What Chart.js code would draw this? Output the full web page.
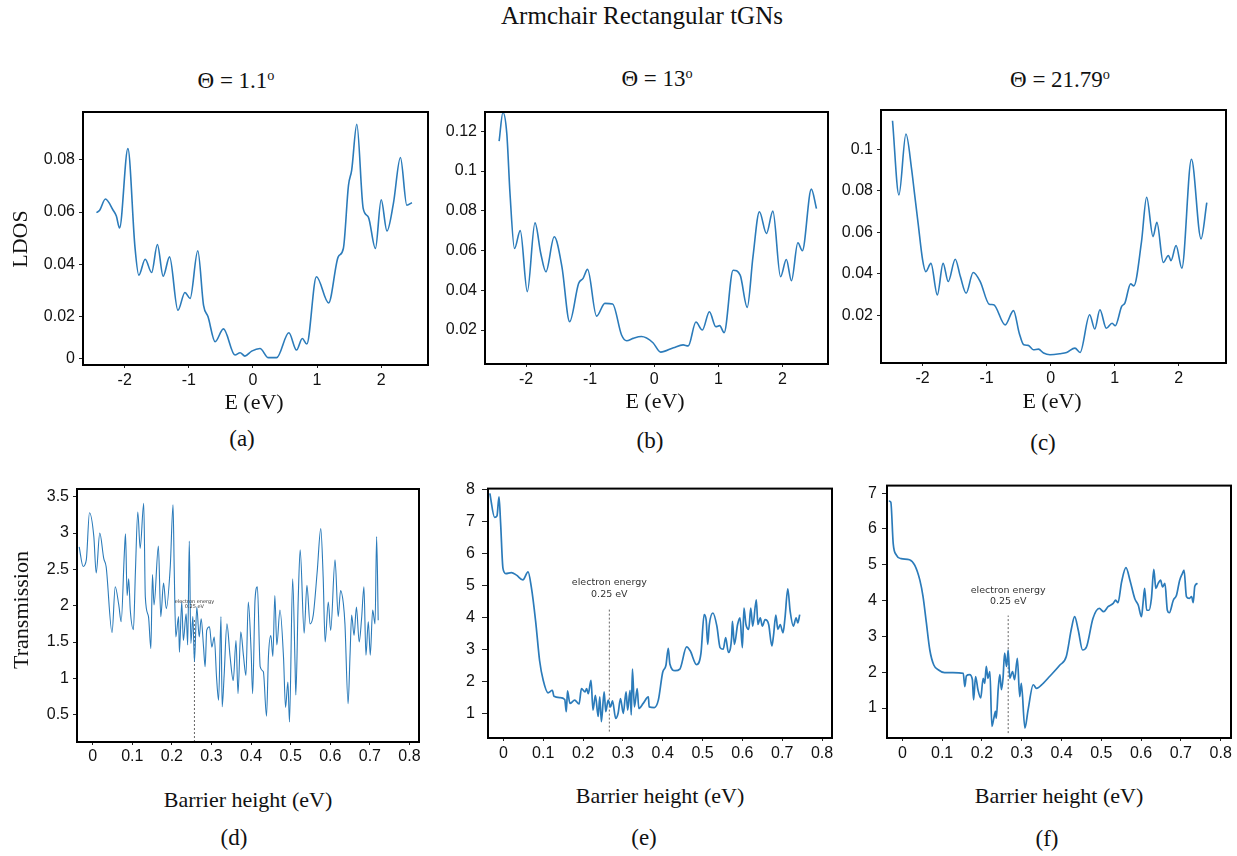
<!DOCTYPE html>
<html><head><meta charset="utf-8">
<script src="https://cdn.jsdelivr.net/npm/chart.js@4.4.0/dist/chart.umd.min.js"></script>
<style>
html,body{margin:0;padding:0;background:#fff;}
#root{position:relative;width:1237px;height:856px;overflow:hidden;background:#fff;}
canvas{position:absolute;}
.t{position:absolute;font-family:'Liberation Serif','Times New Roman',serif;color:#111;white-space:nowrap;line-height:1;transform:translate(-50%,-50%);}
.rot{transform:translate(-50%,-50%) rotate(-90deg);}
sup{font-size:0.62em;vertical-align:0.5em;line-height:0;}
</style></head><body><div id="root"></div>
<script>
// ---------- data ----------
const ldosTicksX = [-2, -1, 0, 1, 2];
const barrierTicksX = [0, 0.1, 0.2, 0.3, 0.4, 0.5, 0.6, 0.7, 0.8];

const aYTicks = [0.0039, 0.02, 0.04, 0.06, 0.08];
const aYLabels = ['0', '0.02', '0.04', '0.06', '0.08'];
const bYTicks = [0.02, 0.04, 0.06, 0.08, 0.1, 0.12];
const bYLabels = ['0.02', '0.04', '0.06', '0.08', '0.1', '0.12'];
const cYTicks = [0.02, 0.04, 0.06, 0.08, 0.1];
const cYLabels = ['0.02', '0.04', '0.06', '0.08', '0.1'];
const dYTicks = [0.5, 1, 1.5, 2, 2.5, 3, 3.5];
const eYTicks = [1, 2, 3, 4, 5, 6, 7, 8];
const fYTicks = [1, 2, 3, 4, 5, 6, 7];

// (a) theta = 1.1
const aE = [-2.44,-2.39,-2.30,-2.18,-2.13,-2.08,-1.95,-1.84,-1.78,-1.68,-1.58,-1.49,-1.40,-1.30,-1.17,-1.06,-0.98,-0.86,-0.77,-0.70,-0.59,-0.46,-0.28,-0.20,-0.125,-0.02,0.11,0.24,0.37,0.56,0.68,0.77,0.84,0.99,1.18,1.33,1.41,1.49,1.54,1.62,1.72,1.80,1.91,2.00,2.09,2.19,2.30,2.40,2.48];
const aLDOS = [0.0598,0.0607,0.065,0.0607,0.0585,0.0539,0.0842,0.0467,0.0359,0.042,0.0369,0.0476,0.0355,0.0429,0.0225,0.0293,0.027,0.0452,0.0244,0.02,0.0105,0.0154,0.0054,0.0063,0.005,0.0069,0.0079,0.0044,0.0044,0.0139,0.0073,0.0117,0.0096,0.0353,0.0253,0.0429,0.0461,0.0702,0.076,0.0935,0.0613,0.0581,0.0461,0.0647,0.0528,0.0632,0.0808,0.0626,0.0636];

// (b) theta = 13
const bE = [-2.42,-2.36,-2.30,-2.25,-2.18,-2.09,-1.98,-1.86,-1.77,-1.69,-1.56,-1.44,-1.32,-1.18,-1.11,-1.04,-0.90,-0.77,-0.65,-0.51,-0.43,-0.33,-0.20,-0.02,0.10,0.30,0.45,0.53,0.65,0.75,0.86,0.96,1.02,1.09,1.23,1.34,1.45,1.54,1.64,1.75,1.85,1.97,2.06,2.14,2.24,2.31,2.45,2.53];
const bLDOS = [0.115,0.1295,0.1188,0.0887,0.061,0.07,0.0393,0.0739,0.0585,0.0493,0.0669,0.0518,0.0242,0.0434,0.046,0.0505,0.027,0.0334,0.0331,0.0175,0.0146,0.0158,0.0167,0.0136,0.0089,0.0111,0.0125,0.012,0.024,0.02,0.0292,0.0217,0.0222,0.0187,0.0501,0.0476,0.0314,0.0569,0.0795,0.0686,0.0798,0.0468,0.0555,0.0448,0.0639,0.0599,0.0909,0.0811];

// (c) theta = 21.79
const cE = [-2.47,-2.37,-2.26,-2.17,-2.13,-2.07,-2.00,-1.95,-1.87,-1.77,-1.68,-1.60,-1.49,-1.41,-1.32,-1.21,-1.10,-0.96,-0.89,-0.71,-0.58,-0.49,-0.42,-0.35,-0.27,-0.19,-0.11,-0.01,0.15,0.25,0.38,0.46,0.61,0.69,0.77,0.87,0.96,1.01,1.11,1.16,1.25,1.30,1.42,1.50,1.60,1.66,1.76,1.84,1.88,1.96,2.05,2.20,2.35,2.44];
const cLDOS = [0.1138,0.078,0.1074,0.09,0.0796,0.0643,0.0467,0.041,0.045,0.0298,0.045,0.0362,0.047,0.0386,0.0306,0.0406,0.0362,0.0253,0.025,0.0153,0.0222,0.0113,0.0057,0.0054,0.0033,0.0036,0.0017,0.0009,0.0014,0.002,0.0041,0.002,0.0202,0.0133,0.0226,0.0137,0.0161,0.0149,0.0242,0.0258,0.0351,0.0341,0.0555,0.0769,0.0579,0.0648,0.0454,0.0488,0.0463,0.0536,0.0427,0.0952,0.0568,0.0743];

// (d) transmission, theta = 1.1
const dBarrier = [-0.034,-0.024,-0.016,-0.008,0.003,0.009,0.018,0.028,0.034,0.049,
0.057,0.066,0.072,0.080,0.083,0.087,0.091,0.095,0.103,0.108,
0.114,0.120,0.129,0.133,0.141,0.147,0.151,0.155,0.166,0.172,
0.179,0.186,0.196,0.203,0.206,0.210,0.217,0.219,0.225,0.229,
0.236,0.240,0.244,0.248,0.253,0.257,0.263,0.269,0.274,0.280,
0.284,0.288,0.295,0.301,0.307,0.313,0.318,0.324,0.327,0.332,
0.339,0.347,0.355,0.362,0.367,0.374,0.381,0.387,0.393,0.400,
0.404,0.410,0.416,0.423,0.431,0.439,0.444,0.450,0.455,0.460,
0.465,0.473,0.482,0.487,0.493,0.497,0.505,0.511,0.513,0.519,
0.524,0.534,0.541,0.549,0.557,0.567,0.576,0.582,0.587,0.595,
0.601,0.612,0.620,0.626,0.633,0.637,0.645,0.650,0.654,0.660,
0.666,0.673,0.679,0.685,0.690,0.696,0.701,0.707,0.713,0.717,
0.721];
const dTrans = [2.81,2.54,2.63,3.28,2.95,2.45,3.0,2.65,2.54,1.63,
2.26,2.01,1.78,2.72,2.99,2.14,2.37,1.94,1.67,2.47,
3.29,2.79,3.41,2.12,1.85,1.41,2.43,2.01,2.82,1.85,
2.31,1.96,2.54,3.39,2.49,1.57,1.85,1.36,2.05,1.52,
1.89,1.46,2.89,1.48,1.85,1.23,1.98,1.57,1.82,1.43,
1.16,1.66,1.71,1.43,1.57,1.0,0.70,1.85,0.61,1.04,
1.75,1.30,0.97,1.52,0.79,1.64,1.30,1.04,2.05,1.39,
0.79,2.08,2.26,1.16,1.09,0.48,1.32,1.59,1.30,2.14,
1.46,1.94,1.28,0.60,0.95,0.40,2.37,1.20,0.77,2.08,
2.77,1.62,2.28,1.75,1.87,2.47,3.06,2.40,1.50,2.05,
1.66,2.63,1.85,2.21,2.03,1.75,0.65,1.34,1.87,1.59,
1.98,1.50,1.82,2.26,1.32,1.78,1.32,1.94,1.75,2.95,
1.80];

// (e) transmission, theta = 13
const eBarrier = [-0.034,-0.022,-0.016,-0.011,-0.007,-0.001,0.006,0.020,0.033,0.049,
0.062,0.070,0.081,0.091,0.100,0.112,0.123,0.127,0.142,0.154,
0.158,0.161,0.167,0.179,0.190,0.196,0.205,0.209,0.213,0.220,
0.225,0.231,0.238,0.242,0.246,0.253,0.257,0.263,0.269,0.274,
0.282,0.288,0.294,0.301,0.308,0.312,0.318,0.321,0.324,0.329,
0.336,0.340,0.351,0.364,0.366,0.379,0.389,0.400,0.408,0.414,
0.418,0.431,0.443,0.460,0.469,0.485,0.496,0.504,0.509,0.513,
0.517,0.526,0.536,0.544,0.552,0.558,0.565,0.573,0.575,0.580,
0.588,0.594,0.600,0.604,0.609,0.616,0.621,0.626,0.635,0.639,
0.645,0.650,0.657,0.666,0.674,0.678,0.684,0.689,0.695,0.702,
0.707,0.714,0.720,0.728,0.735,0.739,0.744];
const eTrans = [7.88,7.13,7.18,7.77,6.97,5.54,5.38,5.41,5.33,5.18,
5.43,4.97,3.89,2.66,2.05,1.66,1.74,1.55,1.51,1.45,
1.07,1.72,1.33,1.43,1.31,1.79,1.69,1.79,1.63,2.05,
1.12,1.58,0.92,1.53,0.76,1.69,1.07,1.43,1.22,1.41,
0.86,1.02,1.48,1.02,1.69,1.12,1.74,0.97,2.40,1.22,
1.79,1.17,1.33,1.53,1.22,1.20,1.43,2.30,2.51,3.05,
2.56,2.35,2.40,3.09,2.97,2.54,2.89,4.10,3.94,3.17,
3.79,4.15,3.74,3.07,3.02,3.38,2.92,3.38,3.89,3.17,
3.79,4.0,3.07,4.30,3.79,3.64,4.30,3.74,4.56,3.79,
4.0,3.74,3.94,3.79,3.12,3.43,4.08,3.64,3.79,3.53,
4.0,4.90,4.20,3.74,4.0,3.84,4.10];

// (f) transmission, theta = 21.79
const fBarrier = [-0.034,-0.029,-0.023,-0.015,-0.003,0.018,0.031,0.044,0.052,0.060,
0.069,0.079,0.090,0.106,0.127,0.153,0.157,0.161,0.169,0.176,
0.179,0.184,0.190,0.197,0.203,0.207,0.211,0.215,0.220,0.225,
0.230,0.234,0.236,0.241,0.245,0.249,0.253,0.257,0.262,0.266,
0.270,0.277,0.282,0.289,0.295,0.299,0.308,0.316,0.329,0.337,
0.354,0.370,0.396,0.412,0.425,0.433,0.442,0.453,0.463,0.479,
0.495,0.506,0.517,0.530,0.536,0.542,0.551,0.562,0.572,0.584,
0.593,0.601,0.605,0.609,0.614,0.620,0.626,0.632,0.637,0.643,
0.649,0.654,0.660,0.666,0.671,0.681,0.689,0.697,0.704,0.708,
0.714,0.721,0.727,0.731,0.735,0.742];
const fTrans = [6.78,6.75,5.59,5.27,5.17,5.14,4.99,4.57,4.11,3.41,
2.62,2.20,2.07,1.99,1.99,1.97,1.60,1.90,1.93,1.79,
1.23,1.88,1.51,1.28,1.83,1.69,2.16,1.83,2.02,0.49,
0.72,0.91,0.72,1.55,1.93,1.51,1.83,2.53,2.16,2.62,
1.83,2.02,1.79,2.39,1.32,1.69,0.44,0.95,1.65,1.55,
1.69,1.88,2.20,2.44,3.22,3.55,3.18,2.62,2.71,3.50,
3.78,3.69,3.83,3.92,4.01,3.94,4.52,4.92,4.57,4.06,
3.87,3.55,3.94,4.34,3.73,3.73,4.06,4.87,4.34,4.48,
4.57,4.38,4.48,3.73,3.66,4.01,4.15,4.57,4.76,4.85,
4.11,4.06,4.11,3.94,4.40,4.48];

// electron-energy marker (x position, bottom, top)
const dMarker = [0.257, 0.124, 1.82];
const eMarker = [0.266, 0.45, 4.32];
const fMarker = [0.266, 0.30, 3.58];
const markerText = ['electron energy', '0.25 eV'];

// ---------- drawing ----------
const root = document.getElementById('root');
const LINE = '#2b7bba';
const TICKFONT = {family: "'Liberation Sans', Arial, sans-serif", size: 16};

const framePlugin = {
  id: 'frame',
  afterDraw(chart) {
    const a = chart.chartArea, ctx = chart.ctx;
    ctx.save();
    ctx.strokeStyle = '#000';
    ctx.lineWidth = 2;
    ctx.strokeRect(a.left, a.top, a.right - a.left, a.bottom - a.top);
    ctx.restore();
  }
};

function panel(cfg) {
  const PL = 70, PT = 14, PR = 26, PB = 36;
  const w = cfg.box.r - cfg.box.l + PL + PR;
  const h = cfg.box.b - cfg.box.t + PT + PB;
  const cv = document.createElement('canvas');
  cv.width = w; cv.height = h;
  cv.style.left = (cfg.box.l - PL) + 'px';
  cv.style.top = (cfg.box.t - PT) + 'px';
  cv.style.width = w + 'px'; cv.style.height = h + 'px';
  root.appendChild(cv);

  const datasets = [{
    data: cfg.xs.map((x, i) => ({x: x, y: cfg.ys[i]})),
    borderColor: LINE, borderWidth: cfg.lw, pointRadius: 0,
    cubicInterpolationMode: 'monotone', fill: false
  }];
  if (cfg.marker) {
    datasets.push({
      data: [{x: cfg.marker[0], y: cfg.marker[1]}, {x: cfg.marker[0], y: cfg.marker[2]}],
      borderColor: '#666', borderWidth: 1, borderDash: [2, 2], pointRadius: 0, fill: false
    });
  }
  const annot = {
    id: 'annot',
    afterDatasetsDraw(chart) {
      if (!cfg.marker) return;
      const ctx = chart.ctx;
      const px = chart.scales.x.getPixelForValue(cfg.marker[0]);
      const py = chart.scales.y.getPixelForValue(cfg.marker[2]);
      ctx.save();
      ctx.font = cfg.mfont + "px 'DejaVu Sans', sans-serif";
      ctx.fillStyle = '#333';
      ctx.textAlign = 'center';
      ctx.textBaseline = 'middle';
      ctx.fillText(markerText[0], px, py + cfg.moff[0]);
      ctx.fillText(markerText[1], px, py + cfg.moff[1]);
      ctx.restore();
    }
  };
  new Chart(cv, {
    type: 'line',
    data: {datasets: datasets},
    options: {
      responsive: false, animation: false, devicePixelRatio: 1,
      layout: {padding: {left: 0, top: PT, right: PR, bottom: 0}},
      plugins: {legend: {display: false}, tooltip: {enabled: false}},
      scales: {
        x: {
          type: 'linear', min: cfg.xr[0], max: cfg.xr[1],
          afterFit: s => { s.height = PB; },
          afterBuildTicks: s => { s.ticks = cfg.xt.map(v => ({value: v})); },
          ticks: {callback: v => String(v), font: TICKFONT, color: '#111', padding: cfg.xpad, maxRotation: 0, autoSkip: false},
          grid: {display: true, drawOnChartArea: false, drawTicks: true, tickLength: 3, color: '#222'},
          border: {display: false}
        },
        y: {
          type: 'linear', min: cfg.yr[0], max: cfg.yr[1],
          afterFit: s => { s.width = PL; },
          afterBuildTicks: s => { s.ticks = cfg.yt.map(v => ({value: v})); },
          ticks: {callback: (v, i) => cfg.yl ? cfg.yl[i] : String(v), font: TICKFONT, color: '#111', padding: cfg.ypad, autoSkip: false},
          grid: {display: true, drawOnChartArea: false, drawTicks: true, tickLength: cfg.ytl, color: '#222'},
          border: {display: false}
        }
      }
    },
    plugins: [framePlugin, annot]
  });
}

panel({box: {l: 83, t: 112, r: 428, b: 365}, xs: aE, ys: aLDOS, lw: 1.6,
  xr: [-2.65, 2.73], yr: [0.0016, 0.0982], xt: ldosTicksX, yt: aYTicks, yl: aYLabels, xpad: 3, ypad: 4, ytl: 4});
panel({box: {l: 485, t: 112, r: 828, b: 364}, xs: bE, ys: bLDOS, lw: 1.6,
  xr: [-2.64, 2.71], yr: [0.0029, 0.1297], xt: ldosTicksX, yt: bYTicks, yl: bYLabels, xpad: 3, ypad: 4, ytl: 4});
panel({box: {l: 881, t: 110, r: 1226, b: 363}, xs: cE, ys: cLDOS, lw: 1.6,
  xr: [-2.65, 2.74], yr: [-0.0031, 0.119], xt: ldosTicksX, yt: cYTicks, yl: cYLabels, xpad: 3, ypad: 4, ytl: 4});
panel({box: {l: 77, t: 489, r: 419, b: 742}, xs: dBarrier, ys: dTrans, lw: 1.1,
  xr: [-0.0395, 0.824], yr: [0.124, 3.606], xt: barrierTicksX, yt: dYTicks, xpad: 2, ypad: 4, ytl: 4,
  marker: dMarker, mfont: 5, moff: [-17, -12]});
panel({box: {l: 488, t: 486, r: 832, b: 738}, xs: eBarrier, ys: eTrans, lw: 1.7,
  xr: [-0.0386, 0.825], yr: [0.25, 8.03], xt: barrierTicksX, yt: eYTicks, xpad: 3, ypad: 7, ytl: 6,
  marker: eMarker, mfont: 9.5, moff: [-25, -13]});
panel({box: {l: 887, t: 485, r: 1231, b: 738}, xs: fBarrier, ys: fTrans, lw: 1.7,
  xr: [-0.0386, 0.826], yr: [0.163, 7.21], xt: barrierTicksX, yt: fYTicks, xpad: 3, ypad: 5, ytl: 5,
  marker: fMarker, mfont: 9.5, moff: [-25, -14]});

// ---------- text ----------
function label(html, cx, cy, size, rot) {
  const d = document.createElement('div');
  d.className = 't' + (rot ? ' rot' : '');
  d.style.left = cx + 'px'; d.style.top = cy + 'px'; d.style.fontSize = size + 'px';
  d.innerHTML = html;
  root.appendChild(d);
}
label('Armchair Rectangular tGNs', 642, 15, 25);
label('&Theta; = 1.1<sup>o</sup>', 236, 80, 23);
label('&Theta; = 13<sup>o</sup>', 657, 78, 23);
label('&Theta; = 21.79<sup>o</sup>', 1060, 79, 23);
label('LDOS', 20, 239, 22, true);
label('E (eV)', 254, 402, 22);
label('E (eV)', 655, 401, 22);
label('E (eV)', 1052, 401, 22);
label('(a)', 242, 438, 23);
label('(b)', 650, 440, 23);
label('(c)', 1043, 442, 23);
label('Transmission', 21, 610, 22, true);
label('Barrier height (eV)', 248, 800, 22);
label('Barrier height (eV)', 660, 796, 22);
label('Barrier height (eV)', 1059, 796, 22);
label('(d)', 234, 837, 23);
label('(e)', 644, 837, 23);
label('(f)', 1047, 838, 23);
</script>
</body></html>
